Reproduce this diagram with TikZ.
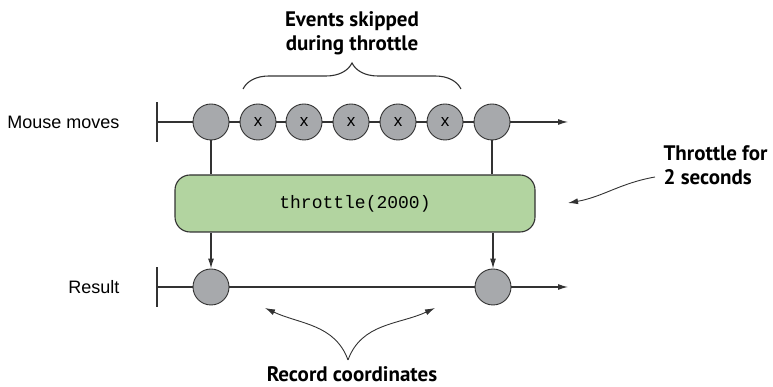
\documentclass[tikz,border=0pt]{standalone}
\usepackage{fontspec}
\setmainfont{Liberation Sans}
\setmonofont{Liberation Mono}
\newfontfamily\calloutfont{PT Sans}
\usepackage{tikz}
\usetikzlibrary{arrows.meta,decorations.pathreplacing}
\definecolor{marblegray}{RGB}{167,169,172}
\definecolor{opgreen}{RGB}{178,212,160}
\definecolor{inkgray}{RGB}{50,50,50}

\begin{document}
\begin{tikzpicture}[x=1pt,y=1pt,
  lane/.style={draw=inkgray,line width=1.1pt},
  arr/.style={-{Latex[length=10pt,width=6pt]},draw=inkgray,line width=1.1pt},
  marble/.style={circle,draw=inkgray,line width=0.9pt,fill=marblegray,minimum size=36pt,inner sep=0pt,font=\fontsize{17}{17}\selectfont},
  callout/.style={font=\calloutfont\bfseries\fontsize{21}{24}\selectfont,align=center},
  rowlabel/.style={font=\fontsize{18}{22}\selectfont,anchor=east}]
% Bounding box
\useasboundingbox (0,0) rectangle (773,387);
% Row labels
\node[rowlabel] (mlab) at (123,265) {Mouse moves};
\node[rowlabel] (rlab) at (123,100) {Result};
% Timelines
\coordinate (mstart) at (157,265);
\coordinate (mend) at (568,265);
\coordinate (rstart) at (157,100);
\coordinate (rend) at (568,100);
\draw[lane] ([yshift=-20pt]mstart) -- ([yshift=20pt]mstart);
\draw[lane] ([yshift=-20pt]rstart) -- ([yshift=20pt]rstart);
\draw[arr] (mstart) -- (mend);
\draw[arr] (rstart) -- (rend);
% Operator box
\node[draw=inkgray,line width=1.1pt,fill=opgreen,rounded corners=15pt,minimum width=360pt,minimum height=57pt,font=\ttfamily\fontsize{18}{18}\selectfont] (op) at (355,183.5) {throttle(2000)};
% Mouse events
\node[marble] (m0) at (211,265) {};
\foreach \i/\x in {1/258,2/304,3/351,4/398,5/445}
  \node[marble] (m\i) at (\x,265) {x};
\node[marble] (m6) at (492,265) {};
% Result events
\node[marble] (r1) at (211,100) {};
\node[marble] (r2) at (493,100) {};
% Links through the operator
\draw[lane] (m0.south) -- (m0 |- op.north);
\draw[lane] (m6.south) -- (m6 |- op.north);
\draw[arr] (r1 |- op.south) -- (r1.north);
\draw[arr] (r2 |- op.south) -- (r2.north);
% Skipped events
\coordinate (bl) at (243,298);
\coordinate (br) at (461,298);
\draw[lane,decorate,decoration={brace,amplitude=26pt}] (bl) -- (br);
\node[callout] (skiplab) at (352,354) {Events skipped\\during throttle};
% Throttle time
\node[callout,align=left,anchor=west] (durlab) at (660,222) {Throttle for\\2 seconds};
\coordinate (thstart) at (655,210);
\coordinate (thend) at (568,184);
\draw[arr,line width=0.9pt] (thstart) to[out=190,in=10] (thend);
% Recorded output
\node[callout,inner sep=0pt,anchor=base] (reclab) at (352,5) {Record coordinates};
\coordinate (rcjoin) at (348,27);
\coordinate (rcl) at (265,79);
\coordinate (rcr) at (435,79);
\draw[arr,line width=0.9pt] (rcjoin) to[out=110,in=-25] (rcl);
\draw[arr,line width=0.9pt] (rcjoin) to[out=70,in=205] (rcr);
\end{tikzpicture}
\end{document}
